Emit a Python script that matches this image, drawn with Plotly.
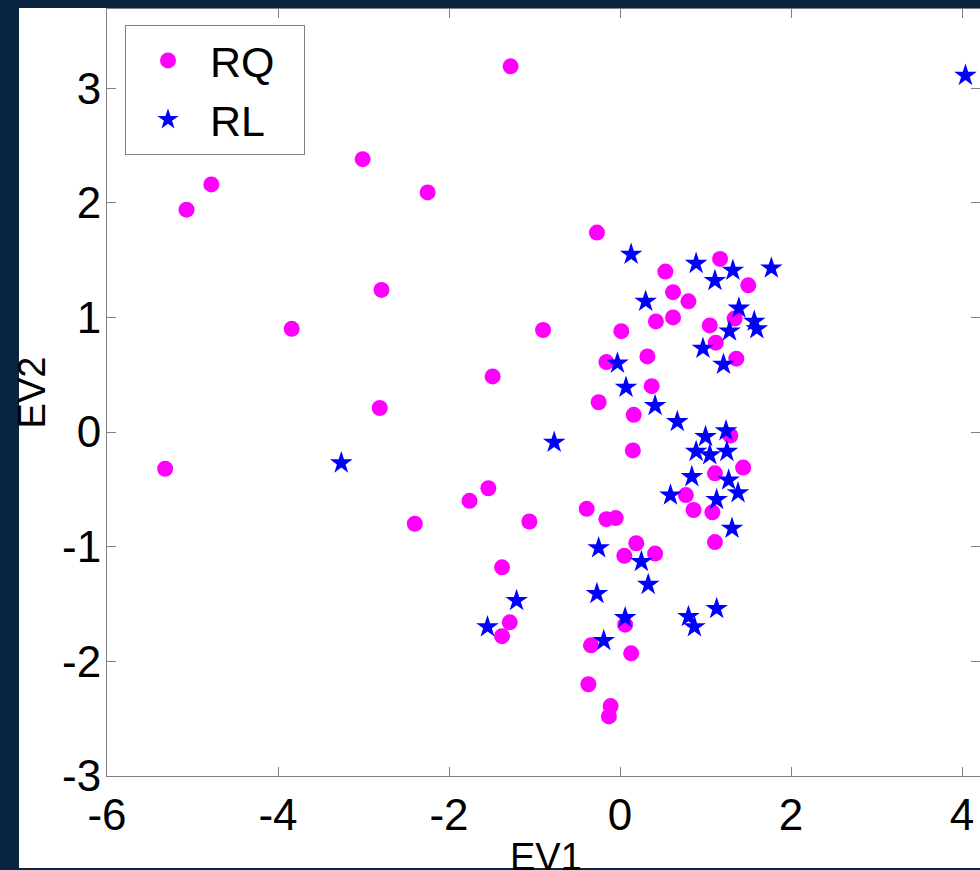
import plotly.graph_objects as go

# RQ group (magenta circles)
rq_ev1 = [-1.28, -3.01, -4.78, -5.07, -2.25, -2.79, -3.84, -0.90, -1.49, -2.81,
          -5.32, -2.40, -1.76, -1.54, -1.06, -1.38, -1.29, -1.38,
          -0.27, 1.17, 1.50, 0.53, 0.62, 0.80, 0.42, 0.62, 1.34, 1.05, 1.12, 1.36,
          0.015, -0.16, 0.32, 0.37, -0.25, 0.16, 0.15, 1.29, 1.44, 1.11, 0.77,
          0.86, 1.08, 1.11, -0.39, -0.16, -0.05, 0.19, 0.05, 0.41, 0.06, -0.34,
          0.13, -0.37, -0.11, -0.13]
rq_ev2 = [3.19, 2.38, 2.16, 1.94, 2.09, 1.24, 0.90, 0.89, 0.485, 0.21,
          -0.32, -0.80, -0.60, -0.49, -0.78, -1.18, -1.66, -1.78,
          1.74, 1.51, 1.28, 1.40, 1.22, 1.14, 0.965, 1.00, 0.99, 0.93, 0.78, 0.64,
          0.88, 0.61, 0.66, 0.40, 0.26, 0.15, -0.16, -0.03, -0.31, -0.36, -0.55,
          -0.68, -0.70, -0.96, -0.67, -0.76, -0.75, -0.97, -1.08, -1.06, -1.68, -1.86,
          -1.93, -2.20, -2.39, -2.48]

# RL group (blue stars)
rl_ev1 = [4.04, -3.26, -1.21, -1.55, -0.77, 0.13, 0.89, 1.32, 1.11, 1.77, 0.30,
          1.39, 1.57, 1.60, 1.28, 0.97, 1.21, -0.03, 0.07, 0.41, 0.67, 1.00, 1.24,
          0.89, 1.05, 1.25, 0.84, 1.27, 1.38, 0.59, 1.13, 1.31, -0.25, 0.25, 0.33,
          -0.27, 0.06, -0.19, 0.80, 0.87, 1.13]
rl_ev2 = [3.11, -0.27, -1.47, -1.70, -0.09, 1.55, 1.47, 1.41, 1.32, 1.43, 1.14,
          1.08, 0.965, 0.90, 0.88, 0.73, 0.59, 0.60, 0.39, 0.23, 0.09, -0.04, 0.01,
          -0.17, -0.20, -0.17, -0.39, -0.42, -0.53, -0.55, -0.59, -0.84, -1.01, -1.13, -1.33,
          -1.41, -1.62, -1.82, -1.61, -1.70, -1.54]

x_ticks = [-6, -4, -2, 0, 2, 4]
y_ticks = [-3, -2, -1, 0, 1, 2, 3]

FONT = "Liberation Sans, Arial, Helvetica, sans-serif"
PAD = "\u00a0\u00a0"

fig = go.Figure()
fig.add_trace(go.Scatter(x=rq_ev1, y=rq_ev2, mode="markers", name="RQ" + PAD,
                         marker=dict(symbol="circle", size=16, color="#FF00FF",
                                     line=dict(width=0))))
fig.add_trace(go.Scatter(x=rl_ev1, y=rl_ev2, mode="markers", name="RL" + PAD,
                         marker=dict(symbol="star", size=17, color="#0000FF",
                                     line=dict(width=0))))

W, H = 980, 870
L, R, T, B = 107, 0, 9, 94
pw, ph = W - L - R, H - T - B

def px_to_paper_x(px):
    return (px - L) / pw

def px_to_paper_y(py):
    return (H - B - py) / ph

axis_common = dict(showgrid=False, zeroline=False, showline=True, linecolor="#808080",
                   linewidth=1, mirror="ticks", ticks="inside", ticklen=9, automargin=False,
                   tickcolor="#808080", tickfont=dict(size=44, color="black", family=FONT))

fig.update_layout(
    width=W, height=H,
    margin=dict(l=L, r=R, t=T, b=B, autoexpand=False),
    paper_bgcolor="#0a2542",
    plot_bgcolor="white",
    font=dict(family=FONT, color="black"),
    xaxis=dict(range=[-6, 4.21], tickvals=x_ticks, ticktext=[str(v) for v in x_ticks],
               **axis_common),
    yaxis=dict(range=[-3, 3.69], tickvals=y_ticks, ticktext=[str(v) for v in y_ticks],
               ticklabelstandoff=-4,
               title=dict(text="EV2", font=dict(size=38), standoff=4), **axis_common),
    legend=dict(x=px_to_paper_x(125), y=px_to_paper_y(25), xanchor="left", yanchor="top",
                bgcolor="white", bordercolor="#808080", borderwidth=1,
                font=dict(size=43, color="black", family=FONT), itemwidth=74),
    annotations=[dict(text="EV1", xref="paper", yref="paper",
                      x=px_to_paper_x(546), y=px_to_paper_y(834),
                      xanchor="center", yanchor="top", showarrow=False,
                      font=dict(size=38, color="black", family=FONT))],
    shapes=[dict(type="rect", xref="paper", yref="paper", layer="below",
                 x0=px_to_paper_x(19), x1=px_to_paper_x(980),
                 y0=px_to_paper_y(868), y1=px_to_paper_y(8),
                 fillcolor="white", line=dict(width=0))],
    showlegend=True,
)

fig.write_html("out.html", config={"displayModeBar": False},
               post_script="document.body.style.margin='0px';document.body.style.overflow='hidden';")
